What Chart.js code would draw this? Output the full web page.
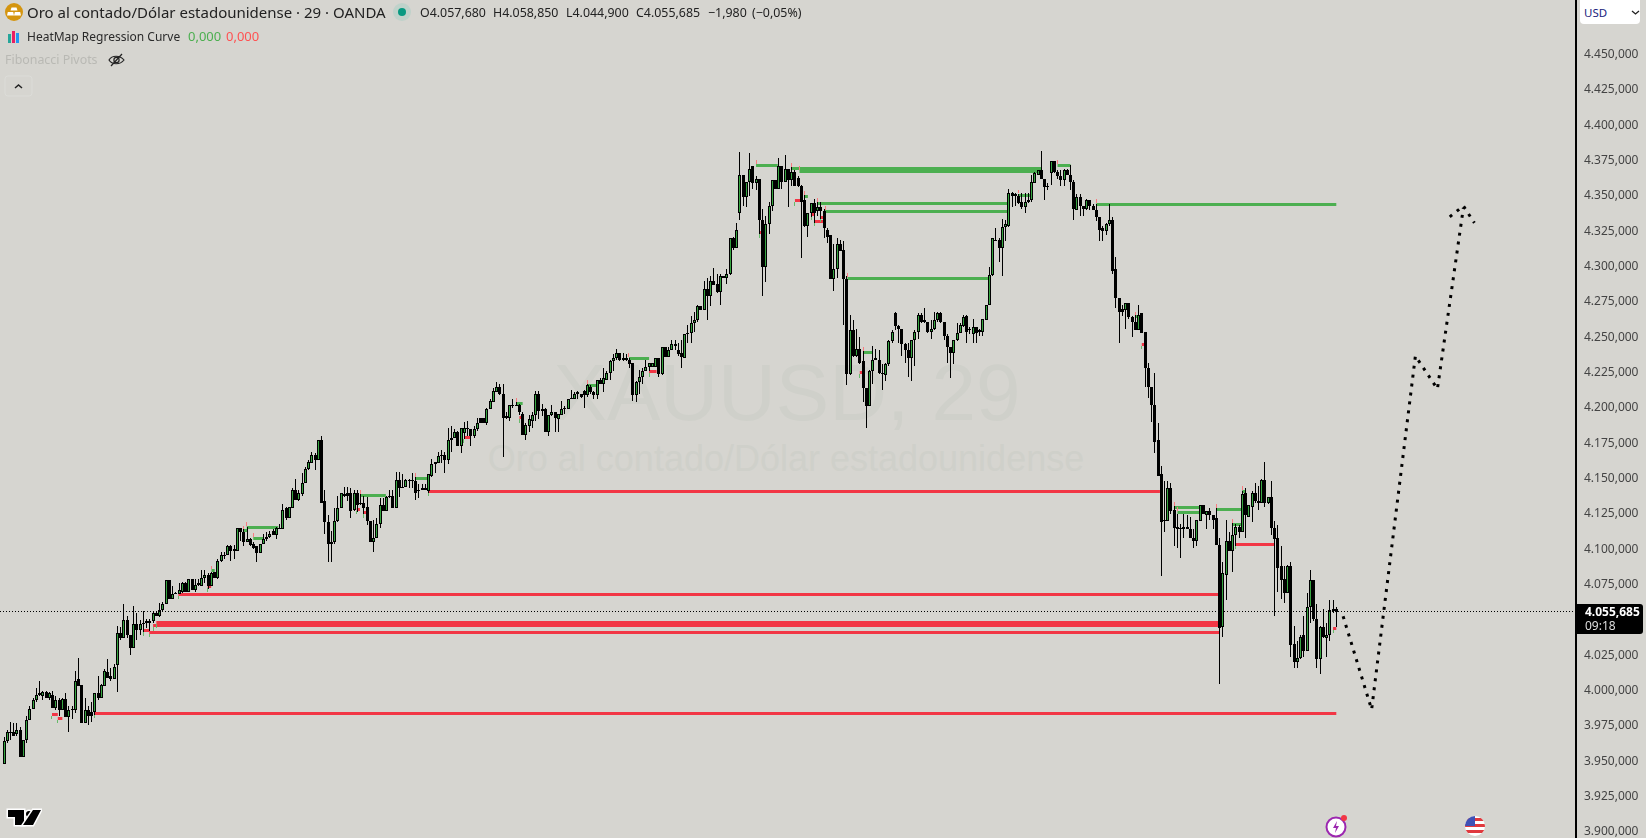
<!DOCTYPE html>
<html>
<head>
<meta charset="utf-8">
<title>XAUUSD 29</title>
<script src="https://cdn.jsdelivr.net/npm/chart.js@4"></script>
<style>
  html, body { margin: 0; padding: 0; background: #d6d5d0; }
  #wrap { position: relative; width: 1646px; height: 838px; overflow: hidden; background: #d6d5d0; font-family: "Noto Sans", sans-serif; color: #222; }
  #myChart { position: absolute; left: 0; top: 0; z-index: 1; }
  .txt { position: absolute; white-space: nowrap; z-index: 2; line-height: 1; }
  .ico { position: absolute; z-index: 2; }
  .mark { position: absolute; z-index: 0; white-space: nowrap; font-family: "Liberation Sans", sans-serif; color: #cfd0ca; line-height: 1; transform: translateX(-50%); }
</style>
</head>
<body>
<div id="wrap">
  <div class="mark" style="left:787px;top:353px;font-size:80px">XAUUSD, 29</div>
  <div class="mark" style="left:786px;top:441px;font-size:36px">Oro al contado/Dólar estadounidense</div>
  <canvas id="myChart" width="1646" height="838"></canvas>

  <svg class="ico" style="left:5px;top:3px" width="18" height="18" viewBox="0 0 18 18"><circle cx="9" cy="9" r="9" fill="#d4950f"/><path d="M6.5 4.5h5l1 3h-7zM2.8 9h5.4l.8 3.5H2zM9.8 9h5.4l.8 3.5H9z" fill="#fff"/></svg>
  <div class="txt" style="left:27px;top:5px;font-size:15px;color:#222">Oro al contado/Dólar estadounidense · 29 · OANDA</div>
  <svg class="ico" style="left:393px;top:3px" width="18" height="18"><circle cx="9" cy="9" r="9" fill="#bfd2ca"/><circle cx="9" cy="9" r="4" fill="#089981"/></svg>
  <div class="txt" style="left:420px;top:7px;font-size:12.4px">O4.057,680</div>
  <div class="txt" style="left:493px;top:7px;font-size:12.4px">H4.058,850</div>
  <div class="txt" style="left:566px;top:7px;font-size:12.4px">L4.044,900</div>
  <div class="txt" style="left:636px;top:7px;font-size:12.4px">C4.055,685</div>
  <div class="txt" style="left:708px;top:7px;font-size:12.4px">−1,980</div>
  <div class="txt" style="left:752px;top:7px;font-size:12.4px">(−0,05%)</div>

  <svg class="ico" style="left:7px;top:30px" width="14" height="14"><rect x="1" y="4" width="3" height="9" fill="#26a69a"/><rect x="5" y="1" width="3" height="12" fill="#e91e63"/><rect x="9" y="3" width="3" height="10" fill="#2196f3"/></svg>
  <div class="txt" style="left:27px;top:31px;font-size:12px;color:#2a2a2a">HeatMap Regression Curve</div>
  <div class="txt" style="left:188px;top:30px;font-size:13px;color:#4caf50">0,000</div>
  <div class="txt" style="left:226px;top:30px;font-size:13px;color:#ff5252">0,000</div>

  <div class="txt" style="left:5px;top:54px;font-size:12.4px;color:#b9b9b4">Fibonacci Pivots</div>
  <svg class="ico" style="left:108px;top:52px" width="17" height="16" fill="none" stroke="#222" stroke-width="1.2"><path d="M1 8c3-5 11-5 15 0c-4 5-12 5-15 0z"/><circle cx="8.5" cy="8" r="2.6"/><path d="M3 14L14 2"/></svg>
  <svg class="ico" style="left:4px;top:75px" width="30" height="22" fill="none"><rect x="1" y="1" width="27" height="20" rx="3" stroke="#dcdcd8"/><path d="M11 13l3.5-3 3.5 3" stroke="#222" stroke-width="1.5"/></svg>

  <div class="ico" style="left:1580px;top:0;width:60px;height:24px;background:#fff;border-radius:0 0 4px 4px"></div>
  <div class="txt" style="left:1584px;top:7px;font-size:11.5px;color:#1a237e">USD</div>
  <svg class="ico" style="left:1631px;top:10px" width="10" height="6" fill="none"><path d="M1 1l3.5 3L8 1" stroke="#222" stroke-width="1.3"/></svg>

  <div class="ico" style="left:1577px;top:604px;width:66px;height:30px;background:#000;border-radius:0 3px 3px 0"></div>
  <div class="txt" style="left:1585px;top:606px;font-size:12px;font-weight:700;color:#fff">4.055,685</div>
  <div class="txt" style="left:1585px;top:620px;font-size:12px;color:#ddd">09:18</div>

  <svg class="ico" style="left:5px;top:807px" width="37" height="22"><g fill="#000" stroke="#fff" stroke-width="3" paint-order="stroke"><path d="M3 3h16v15h-9v-8H3z"/><circle cx="24" cy="7" r="3"/><path d="M37 3h-8L19 18h10z" transform="translate(-1 0)"/></g></svg>

  <svg class="ico" style="left:1325px;top:814px" width="24" height="24"><circle cx="11" cy="13" r="9.5" fill="#fff" stroke="#9c27b0" stroke-width="2"/><path d="M12 7l-4 7h3l-1 5 4-7h-3z" fill="#9c27b0"/><circle cx="19" cy="4" r="3" fill="#f23645"/></svg>
  <svg class="ico" style="left:1464px;top:815px" width="22" height="22"><defs><clipPath id="c"><circle cx="11" cy="11" r="10"/></clipPath></defs><g clip-path="url(#c)"><rect width="22" height="22" fill="#fff"/><path d="M0 3h22v3H0zM0 9h22v3H0zM0 15h22v3H0z" fill="#e0393e"/><rect width="11" height="11" fill="#3f51b5"/></g></svg>
</div>

<script>
// price axis
const priceTicks = [3900,3925,3950,3975,4000,4025,4050,4075,4100,4125,4150,4175,4200,4225,4250,4275,4300,4325,4350,4375,4400,4425,4450];
const lastPrice = 4055.685;

// candles
const opens = [3948,3964,3971,3971,3969,3972,3953,3965,3979,3987,
3993,3997,3996,3999,3995,3997,3988,3993,3986,3994,
3981,3987,3986,4008,4004,3977,3986,3985,3985,3998,
3995,4003,4013,4010,4008,4018,4041,4037,4050,4039,
4030,4047,4043,4048,4049,4049,4049,4055,4053,4057,
4061,4078,4065,4069,4068,4070,4076,4070,4079,4071,
4076,4074,4080,4082,4074,4084,4080,4092,4096,4096,
4102,4100,4099,4115,4112,4105,4107,4104,4102,4097,
4104,4107,4109,4113,4110,4115,4114,4129,4122,4129,
4142,4135,4139,4147,4157,4161,4167,4163,4177,4134,
4119,4105,4105,4120,4129,4139,4140,4140,4128,4140,
4133,4133,4130,4120,4105,4108,4118,4131,4127,4138,
4138,4129,4149,4144,4144,4149,4149,4148,4142,4143,
4143,4141,4152,4160,4161,4167,4167,4163,4177,4179,
4183,4173,4182,4186,4185,4180,4185,4193,4193,4189,
4199,4204,4211,4215,4210,4194,4193,4202,4202,4202,
4196,4181,4187,4191,4195,4210,4199,4199,4183,4195,
4197,4192,4195,4200,4199,4207,4206,4211,4210,4212,
4209,4215,4211,4209,4220,4217,4220,4225,4233,4235,
4239,4235,4235,4234,4232,4209,4218,4222,4226,4229,
4229,4229,4235,4224,4243,4236,4241,4245,4241,4239,
4235,4253,4253,4260,4262,4272,4269,4284,4279,4290,
4288,4282,4293,4292,4295,4320,4313,4338,4365,4349,
4360,4371,4359,4362,4333,4300,4330,4343,4361,4355,
4371,4360,4369,4361,4367,4363,4357,4347,4329,4338,
4345,4339,4342,4339,4326,4322,4291,4298,4316,4312,
4291,4224,4255,4237,4242,4233,4214,4201,4226,4235,
4234,4225,4223,4231,4247,4267,4258,4256,4245,4241,
4235,4248,4254,4266,4262,4261,4254,4256,4262,4267,
4261,4251,4243,4239,4248,4253,4258,4265,4256,4252,
4257,4255,4254,4262,4273,4294,4319,4319,4313,4328,
4329,4352,4351,4350,4346,4342,4347,4347,4359,4365,
4368,4362,4357,4366,4375,4367,4364,4361,4368,4365,
4360,4340,4349,4343,4341,4347,4343,4340,4335,4327,
4325,4330,4333,4298,4278,4270,4269,4274,4264,4261,
4255,4267,4254,4228,4215,4202,4177,4153,4121,4120,
4143,4128,4116,4115,4114,4116,4114,4108,4106,4120,
4131,4124,4127,4124,4122,4103,4045,4082,4106,4099,
4110,4116,4112,4140,4123,4130,4140,4134,4133,4149,
4133,4137,4115,4108,4088,4079,4069,4088,4033,4020,
4023,4039,4028,4059,4078,4051,4022,4045,4037,4039,
4058,4057.68];

const closes = [3964,3971,3970,3968,3972,3953,3965,3979,3987,3993,
3997,3998,3999,3995,3998,3988,3993,3986,3994,3981,
3986,3986,4007,4003,3977,3986,3982,3982,3998,3995,
4004,4014,4009,4008,4017,4041,4037,4050,4039,4030,
4047,4043,4047,4047,4048,4048,4055,4053,4057,4061,
4078,4065,4068,4068,4071,4076,4070,4079,4071,4075,
4075,4080,4082,4074,4083,4080,4092,4096,4095,4102,
4099,4099,4115,4112,4105,4107,4103,4101,4097,4104,
4107,4109,4111,4110,4115,4114,4128,4122,4130,4142,
4135,4140,4147,4157,4162,4167,4163,4177,4133,4119,
4104,4104,4120,4129,4140,4138,4138,4127,4140,4131,
4132,4129,4120,4105,4108,4118,4131,4127,4137,4137,
4129,4149,4143,4143,4149,4148,4148,4140,4141,4142,
4142,4153,4160,4162,4166,4166,4163,4177,4179,4183,
4173,4186,4186,4185,4180,4185,4189,4189,4189,4199,
4205,4212,4215,4210,4193,4193,4202,4201,4201,4197,
4181,4188,4192,4195,4210,4198,4198,4183,4195,4197,
4193,4196,4199,4199,4206,4206,4210,4210,4208,4209,
4216,4211,4209,4220,4217,4221,4225,4233,4235,4239,
4234,4234,4234,4231,4209,4218,4222,4226,4229,4232,
4232,4235,4224,4243,4236,4241,4245,4244,4238,4236,
4252,4252,4260,4262,4272,4269,4284,4279,4290,4287,
4282,4293,4292,4295,4320,4313,4326,4365,4349,4360,
4369,4359,4362,4333,4300,4330,4343,4361,4355,4371,
4360,4369,4361,4367,4357,4357,4346,4329,4338,4345,
4338,4342,4339,4327,4321,4291,4298,4316,4311,4291,
4224,4255,4237,4242,4232,4214,4201,4226,4234,4234,
4225,4224,4231,4247,4254,4258,4256,4245,4241,4235,
4248,4254,4266,4261,4261,4254,4256,4262,4267,4261,
4251,4243,4239,4248,4253,4259,4264,4254,4255,4257,
4253,4254,4263,4273,4294,4320,4318,4313,4328,4330,
4352,4350,4350,4345,4342,4346,4346,4360,4366,4368,
4362,4356,4356,4375,4367,4364,4361,4368,4365,4360,
4341,4349,4343,4341,4347,4343,4340,4335,4326,4325,
4330,4333,4297,4278,4268,4268,4274,4264,4261,4255,
4266,4253,4228,4215,4202,4176,4152,4119,4120,4143,
4127,4115,4114,4114,4116,4114,4108,4106,4121,4131,
4125,4127,4124,4121,4103,4044,4083,4106,4099,4110,
4116,4112,4139,4124,4131,4140,4134,4133,4149,4133,
4137,4115,4107,4087,4078,4069,4088,4032,4020,4023,
4038,4028,4059,4078,4051,4022,4045,4038,4039,4057,
4056,4055.685];

const highs = [3967,3972,3978,3977,3977,3974,3965,3982,3989,3995,
4002,4007,4000,4000,3999,4000,3996,3995,3995,3998,
3989,3989,4014,4023,4004,3995,3989,3992,3998,4010,
4005,4015,4022,4016,4019,4046,4045,4061,4053,4039,
4060,4055,4050,4056,4051,4051,4056,4056,4062,4063,
4078,4078,4074,4070,4076,4077,4077,4079,4079,4079,
4079,4085,4085,4083,4084,4084,4093,4098,4098,4103,
4103,4103,4115,4115,4116,4116,4108,4105,4102,4104,
4111,4112,4113,4114,4116,4118,4132,4130,4130,4143,
4150,4142,4154,4158,4163,4169,4168,4177,4180,4142,
4124,4113,4129,4138,4140,4144,4144,4143,4142,4142,
4141,4138,4137,4120,4121,4122,4136,4136,4138,4142,
4142,4155,4155,4153,4150,4150,4154,4153,4146,4146,
4146,4153,4164,4162,4169,4170,4169,4186,4187,4185,
4184,4186,4190,4191,4185,4187,4193,4193,4193,4200,
4206,4214,4218,4217,4217,4197,4202,4206,4206,4203,
4197,4189,4195,4197,4212,4212,4203,4200,4195,4202,
4197,4196,4205,4201,4206,4213,4211,4212,4210,4213,
4217,4216,4212,4220,4221,4228,4226,4234,4238,4242,
4239,4239,4238,4235,4232,4219,4227,4228,4234,4232,
4232,4235,4235,4243,4243,4243,4248,4248,4246,4248,
4252,4259,4265,4268,4273,4272,4290,4292,4293,4299,
4295,4295,4293,4298,4320,4321,4331,4381,4365,4360,
4380,4371,4364,4362,4341,4336,4346,4361,4361,4377,
4371,4379,4369,4371,4368,4364,4358,4352,4338,4345,
4348,4347,4346,4341,4327,4322,4316,4320,4319,4318,
4293,4266,4262,4256,4250,4241,4214,4227,4244,4242,
4241,4231,4232,4248,4255,4268,4259,4256,4246,4246,
4248,4255,4267,4267,4271,4261,4262,4268,4268,4268,
4261,4252,4243,4248,4260,4260,4266,4266,4257,4263,
4257,4256,4263,4273,4300,4320,4327,4320,4334,4333,
4355,4353,4352,4351,4352,4352,4352,4365,4367,4368,
4382,4362,4359,4375,4375,4368,4368,4369,4369,4372,
4361,4351,4351,4343,4348,4347,4344,4344,4335,4329,
4331,4344,4335,4307,4278,4273,4274,4274,4265,4268,
4273,4267,4254,4232,4215,4225,4189,4159,4148,4148,
4147,4131,4125,4118,4125,4124,4123,4114,4121,4131,
4131,4127,4129,4124,4131,4108,4091,4121,4112,4121,
4118,4117,4141,4143,4131,4141,4147,4145,4150,4162,
4137,4148,4120,4117,4102,4088,4089,4091,4046,4035,
4039,4053,4069,4085,4078,4061,4046,4058,4048,4064,
4064,4058.85];

const lows = [3948,3963,3965,3968,3968,3953,3953,3963,3979,3987,
3992,3996,3993,3995,3993,3988,3986,3982,3986,3981,
3971,3980,3984,4003,3977,3977,3976,3978,3982,3993,
3995,4003,4009,4007,4008,3999,4036,4037,4037,4025,
4030,4036,4039,4039,4044,4042,4048,4053,4052,4056,
4061,4065,4065,4068,4068,4069,4070,4070,4071,4070,
4074,4074,4076,4072,4074,4080,4079,4091,4093,4096,
4092,4093,4099,4106,4102,4105,4102,4100,4091,4097,
4104,4106,4108,4110,4107,4114,4114,4121,4122,4129,
4135,4134,4138,4147,4156,4161,4156,4163,4133,4111,
4091,4091,4104,4119,4129,4137,4134,4122,4127,4126,
4131,4123,4117,4105,4098,4108,4115,4127,4127,4136,
4129,4129,4137,4143,4144,4143,4143,4135,4136,4142,
4142,4138,4151,4154,4161,4161,4154,4160,4169,4179,
4173,4168,4178,4180,4173,4179,4184,4189,4189,4188,
4199,4204,4211,4209,4165,4192,4191,4200,4201,4195,
4181,4177,4183,4186,4191,4192,4194,4183,4180,4194,
4183,4183,4195,4196,4199,4206,4206,4206,4207,4200,
4208,4210,4206,4206,4217,4211,4220,4220,4226,4234,
4233,4233,4233,4228,4205,4204,4210,4217,4226,4226,
4229,4229,4222,4223,4236,4236,4241,4241,4237,4228,
4235,4246,4246,4254,4261,4269,4269,4262,4272,4287,
4281,4273,4292,4288,4294,4312,4313,4333,4343,4342,
4350,4355,4354,4321,4279,4289,4323,4339,4355,4355,
4355,4360,4342,4357,4357,4356,4306,4328,4321,4334,
4329,4336,4334,4320,4317,4291,4283,4292,4311,4259,
4216,4223,4236,4236,4231,4204,4186,4201,4217,4234,
4224,4213,4219,4230,4246,4255,4246,4237,4232,4222,
4219,4230,4249,4260,4260,4253,4249,4255,4261,4260,
4248,4232,4221,4231,4247,4253,4257,4246,4252,4246,
4246,4251,4251,4262,4273,4293,4318,4303,4293,4318,
4328,4342,4343,4344,4341,4338,4345,4346,4359,4365,
4362,4347,4354,4358,4366,4362,4357,4357,4365,4354,
4333,4340,4336,4336,4340,4340,4340,4332,4318,4318,
4322,4329,4295,4271,4246,4265,4256,4263,4250,4255,
4255,4253,4215,4207,4190,4168,4152,4081,4112,4120,
4125,4102,4101,4094,4108,4114,4108,4101,4102,4120,
4125,4114,4121,4114,4103,4005,4038,4064,4099,4084,
4102,4108,4112,4108,4123,4119,4133,4128,4133,4130,
4132,4110,4053,4070,4065,4062,4069,4024,4016,4016,
4022,4024,4028,4048,4049,4016,4012,4037,4024,4035,
4055,4044.9];

// pivot levels, from bar to bar at a price
const greenFrom  = [337,243,245.4,251,253.3,260.2,232,192.8,180,126.8,110,74.9,76.9,74,158,64,265,325,313,247,349,361,362,374,379,382];
const greenTo    = [411,320,320,310,310,304,238.7,199,183,130.5,117.8,84.6,80,75,160,65,268,329,316.5,248,350,368.7,368.7,381.8,381.8,383];
const greenPrice = [4344,4369.4,4367.3,4344.8,4339,4291.7,4371.6,4235,4216,4150,4138.2,4115.5,4107.7,4113,4203.4,4084.8,4239.3,4371.6,4350.6,4349.7,4264.5,4129.6,4126,4128.3,4117.6,4140.8];

const redFrom  = [130.8,53.8,47,46,44.8,43,27.9,14.8,16.6,62.8,141.9,199,159,108.8,110.8,233,244,249,250,252,264,351,380,410];
const redTo    = [356.6,374.9,374.9,374.9,374.9,45,411,16.6,18,63.9,143.8,201.3,160,109.8,111.7,234,245.7,250,252.7,252.7,265,351.7,392,411];
const redPrice = [4141,4068.1,4048.2,4046,4041.2,4042.5,3983.9,3983.2,3980.4,4073.5,4178.9,4225.6,4193.1,4128.3,4125.9,4324,4346.6,4336.5,4332,4335,4224.9,4245.2,4103.5,4044];

// hand drawn projection (dotted)
const pathBars   = [413.1,421.9,435.4,442.2,450.2];
const pathPrices = [4052.6,3986.6,4236.7,4213.5,4341.5];
const capBars    = [446,450.2,453.6];
const capPrices  = [4335.2,4342.9,4330.9];

const barX0 = 4;
const barGap = 3.2416;
const axisLeft = 1576;

const candleX = opens.map((v, i) => i);

const levelSet = (from, to, price, color) => from.map((f, i) => ({
    type: 'line',
    data: [{x: f, y: price[i]}, {x: to[i], y: price[i]}],
    borderColor: color,
    borderWidth: 3,
    pointRadius: 0,
    order: 40,
    snapLine: true
}));

const snapCandles = {
    id: 'snapCandles',
    afterDatasetsUpdate(chart) {
        chart.data.datasets.forEach((ds, d) => {
            const meta = chart.getDatasetMeta(d);
            if (meta.type === 'bar') {
                meta.data.forEach(el => {
                    el.x = Math.floor(el.x) + 0.5;
                    el.y = Math.round(el.y);
                    el.base = Math.round(el.base);
                    if (Math.abs(el.y - el.base) < 1) el.base = el.y + 1;
                });
            } else if (ds.snapLine) {
                meta.data.forEach(el => { el.y = Math.floor(el.y) + 0.5; });
            }
        });
    }
};

const datasets = [
    ...levelSet(greenFrom, greenTo, greenPrice, '#4caf50'),
    ...levelSet(redFrom, redTo, redPrice, '#f23645'),
    {
        label: 'wicks',
        data: candleX.map(i => ({x: i, y: [lows[i], highs[i]]})),
        backgroundColor: '#000',
        borderWidth: 0,
        barThickness: 1,
        grouped: false,
        inflateAmount: 0,
        order: 30
    },
    {
        label: 'bodies',
        data: candleX.map(i => ({x: i, y: [opens[i], closes[i]]})),
        backgroundColor: candleX.map(i => closes[i] >= opens[i] ? '#36a540' : '#000'),
        borderColor: '#000',
        borderWidth: 1,
        borderSkipped: false,
        barThickness: 3,
        grouped: false,
        inflateAmount: 0,
        order: 20
    },
    {
        label: 'pivot highs',
        data: greenFrom.map((f, i) => ({x: f, y: [greenPrice[i] + 1.1, greenPrice[i] + 3.6]})),
        backgroundColor: '#f77c80',
        borderWidth: 0,
        barThickness: 1,
        grouped: false,
        inflateAmount: 0,
        order: 15
    },
    {
        label: 'pivot lows',
        data: redFrom.map((f, i) => ({x: f, y: [redPrice[i] - 3.6, redPrice[i] - 1.1]})),
        backgroundColor: '#66bb6a',
        borderWidth: 0,
        barThickness: 1,
        grouped: false,
        inflateAmount: 0,
        order: 15
    },
    {
        type: 'line',
        label: 'projection',
        data: pathBars.map((b, i) => ({x: b, y: pathPrices[i]})),
        borderColor: '#000',
        borderWidth: 3,
        borderDash: [3, 6],
        pointRadius: 0,
        tension: 0,
        order: 10
    },
    {
        type: 'line',
        label: 'projection top',
        data: capBars.map((b, i) => ({x: b, y: capPrices[i]})),
        borderColor: '#000',
        borderWidth: 3,
        borderDash: [3, 6],
        pointRadius: 0,
        tension: 0,
        order: 10
    },
    {
        type: 'line',
        label: 'last price',
        data: [{x: -barX0 / barGap, y: lastPrice}, {x: (axisLeft - barX0) / barGap, y: lastPrice}],
        borderColor: '#000',
        borderWidth: 1,
        borderDash: [1, 2],
        pointRadius: 0,
        order: 5,
        snapLine: true
    }
];

new Chart(document.getElementById('myChart'), {
    type: 'bar',
    data: {datasets},
    plugins: [snapCandles],
    options: {
        responsive: false,
        animation: false,
        layout: {padding: 0},
        plugins: {legend: {display: false}, tooltip: {enabled: false}},
        scales: {
            x: {
                type: 'linear',
                display: false,
                offset: false,
                min: -barX0 / barGap,
                max: (axisLeft - barX0) / barGap,
                grid: {display: false}
            },
            y: {
                position: 'right',
                min: 3895.7,
                max: 4488.6,
                beginAtZero: false,
                afterBuildTicks: s => { s.ticks = priceTicks.map(v => ({value: v})); },
                afterFit: s => {
                    s.width = 1646 - axisLeft;
                    // labels may not shrink the plot, the axis runs full height
                    s.paddingTop = 0;
                    s.paddingBottom = 0;
                },
                grid: {display: false, drawTicks: false},
                border: {display: true, color: '#000', width: 2},
                ticks: {
                    autoSkip: false,
                    padding: 8,
                    color: '#444',
                    font: {family: '"Noto Sans", sans-serif', size: 12},
                    callback: v => v.toLocaleString('de-DE', {minimumFractionDigits: 3, maximumFractionDigits: 3})
                }
            }
        }
    }
});
</script>
</body>
</html>
